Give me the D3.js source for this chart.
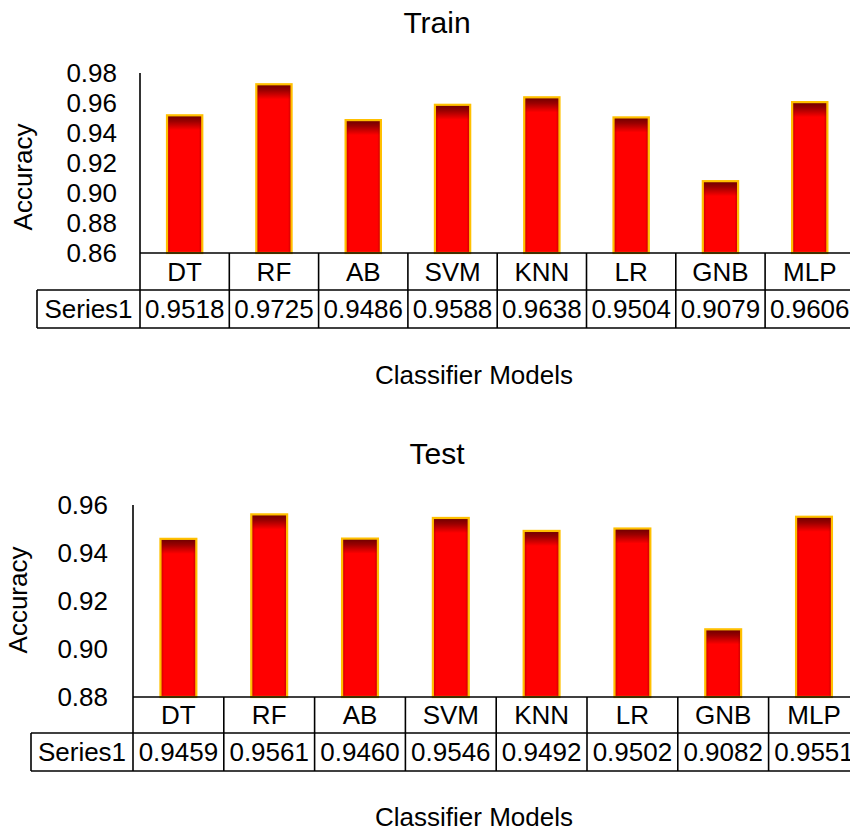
<!DOCTYPE html>
<html>
<head>
<meta charset="utf-8">
<script src="https://cdn.jsdelivr.net/npm/d3@7"></script>
<style>
  html, body { margin: 0; padding: 0; background: #fff; }
  svg { display: block; font-family: "Liberation Sans", Arial, Helvetica, sans-serif; }
</style>
</head>
<body>
<script>
const categories = ["DT", "RF", "AB", "SVM", "KNN", "LR", "GNB", "MLP"];
const trainValues = [0.9518, 0.9725, 0.9486, 0.9588, 0.9638, 0.9504, 0.9079, 0.9606];
const testValues = [0.9459, 0.9561, 0.9460, 0.9546, 0.9492, 0.9502, 0.9082, 0.9551];
const trainTicks = [0.86, 0.88, 0.90, 0.92, 0.94, 0.96, 0.98];
const testTicks = [0.88, 0.90, 0.92, 0.94, 0.96];
const seriesName = "Series1";
const titles = ["Train", "Test"];
const xTitle = "Classifier Models";
const yTitle = "Accuracy";

const W = 850, H = 831;
const FS = 26;
const svg = d3.select("body").append("svg").attr("width", W).attr("height", H);
const defs = svg.append("defs");

// side shading gradient
const side = defs.append("linearGradient").attr("id", "sideShade")
  .attr("x1", 0).attr("x2", 1).attr("y1", 0).attr("y2", 0);
side.append("stop").attr("offset", "0").attr("stop-color", "#8a0000").attr("stop-opacity", 0.55);
side.append("stop").attr("offset", "0.1").attr("stop-color", "#8a0000").attr("stop-opacity", 0);
side.append("stop").attr("offset", "0.9").attr("stop-color", "#8a0000").attr("stop-opacity", 0);
side.append("stop").attr("offset", "1").attr("stop-color", "#8a0000").attr("stop-opacity", 0.55);

const panels = [
  { id: "tr", title: titles[0], values: trainValues, ticks: trainTicks, domain: [0.86, 0.98],
    axisX: 140, band: 89.3, yTop: 73, yBottom: 253, row1: 290, row2: 328, leftCell: 37,
    titleY: 33, xTitleY: 384, yTitleX: 32, yTitleY: 177, tickEnd: 117 },
  { id: "te", title: titles[1], values: testValues, ticks: testTicks, domain: [0.88, 0.96],
    axisX: 133, band: 90.8, yTop: 505, yBottom: 697, row1: 733, row2: 771, leftCell: 31,
    titleY: 464, xTitleY: 826, yTitleX: 27, yTitleY: 600, tickEnd: 108 }
];

panels.forEach(p => {
  const g = svg.append("g");
  const x = d3.scaleBand().domain(categories)
    .range([p.axisX, p.axisX + p.band * categories.length]).padding(0);
  const y = d3.scaleLinear().domain(p.domain).range([p.yBottom, p.yTop]);

  // title
  g.append("text").attr("x", 437).attr("y", p.titleY).attr("text-anchor", "middle")
    .attr("font-size", 30).attr("fill", "#000").text(p.title);

  // y tick labels
  g.selectAll(".tick").data(p.ticks).join("text")
    .attr("x", p.tickEnd).attr("y", d => y(d)).attr("dy", "0.36em")
    .attr("text-anchor", "end").attr("font-size", FS).text(d => d.toFixed(2));

  // y title
  g.append("text").attr("transform", `translate(${p.yTitleX},${p.yTitleY}) rotate(-90)`)
    .attr("text-anchor", "middle").attr("font-size", FS).text(yTitle);

  // bars
  const bw = x.bandwidth() * 0.395;
  const bars = g.selectAll(".bar").data(categories.map((c, i) => ({ c, v: p.values[i], i })));
  bars.join(enter => {
    const bg = enter.append("g");
    bg.each(function(d) {
      const sel = d3.select(this);
      const x0 = x(d.c) + x.bandwidth() / 2 - bw / 2;
      const yt = y(d.v);
      const h = p.yBottom - yt;
      const gid = `tg-${p.id}-${d.i}`;
      const lg = defs.append("linearGradient").attr("id", gid)
        .attr("gradientUnits", "userSpaceOnUse")
        .attr("x1", 0).attr("x2", 0).attr("y1", yt).attr("y2", yt + 15);
      lg.append("stop").attr("offset", "0").attr("stop-color", "#6a0000");
      lg.append("stop").attr("offset", "0.4").attr("stop-color", "#9a0000");
      lg.append("stop").attr("offset", "1").attr("stop-color", "#ff0000");
      sel.append("rect").attr("x", x0).attr("y", yt).attr("width", bw).attr("height", h)
        .attr("fill", `url(#${gid})`);
      sel.append("rect").attr("x", x0).attr("y", yt).attr("width", bw).attr("height", h)
        .attr("fill", "url(#sideShade)");
      sel.append("rect").attr("x", x0).attr("y", yt).attr("width", bw).attr("height", h)
        .attr("fill", "none").attr("stroke", "#ffc000").attr("stroke-width", 2.2);
    });
    return bg;
  });

  const lineW = 1.6;
  const right = p.axisX + p.band * categories.length;
  // axis vertical line
  g.append("line").attr("x1", p.axisX).attr("x2", p.axisX).attr("y1", p.yTop).attr("y2", p.row2)
    .attr("stroke", "#000").attr("stroke-width", lineW);
  // horizontal lines
  g.append("line").attr("x1", p.axisX).attr("x2", right).attr("y1", p.yBottom).attr("y2", p.yBottom)
    .attr("stroke", "#000").attr("stroke-width", lineW);
  g.append("line").attr("x1", p.leftCell).attr("x2", right).attr("y1", p.row1).attr("y2", p.row1)
    .attr("stroke", "#000").attr("stroke-width", lineW);
  g.append("line").attr("x1", p.leftCell).attr("x2", right).attr("y1", p.row2).attr("y2", p.row2)
    .attr("stroke", "#000").attr("stroke-width", lineW);
  g.append("line").attr("x1", p.leftCell).attr("x2", p.leftCell).attr("y1", p.row1).attr("y2", p.row2)
    .attr("stroke", "#000").attr("stroke-width", lineW);
  // cell separators
  g.selectAll(".sep").data(categories.slice(1).concat(["__end"])).join("line")
    .attr("x1", d => d === "__end" ? right : x(d)).attr("x2", d => d === "__end" ? right : x(d))
    .attr("y1", p.yBottom).attr("y2", p.row2)
    .attr("stroke", "#000").attr("stroke-width", lineW);

  // category labels
  g.selectAll(".cat").data(categories).join("text")
    .attr("x", d => x(d) + x.bandwidth() / 2).attr("y", (p.yBottom + p.row1) / 2).attr("dy", "0.36em")
    .attr("text-anchor", "middle").attr("font-size", FS).text(d => d);
  // value labels
  g.selectAll(".val").data(p.values).join("text")
    .attr("x", (d, i) => x(categories[i]) + x.bandwidth() / 2).attr("y", (p.row1 + p.row2) / 2).attr("dy", "0.36em")
    .attr("text-anchor", "middle").attr("font-size", FS).text(d => d.toFixed(4));
  g.append("text").attr("x", (p.leftCell + p.axisX) / 2).attr("y", (p.row1 + p.row2) / 2).attr("dy", "0.36em")
    .attr("text-anchor", "middle").attr("font-size", FS).text(seriesName);

  // x title
  g.append("text").attr("x", 474).attr("y", p.xTitleY).attr("text-anchor", "middle")
    .attr("font-size", FS).text(xTitle);
});
</script>
</body>
</html>
